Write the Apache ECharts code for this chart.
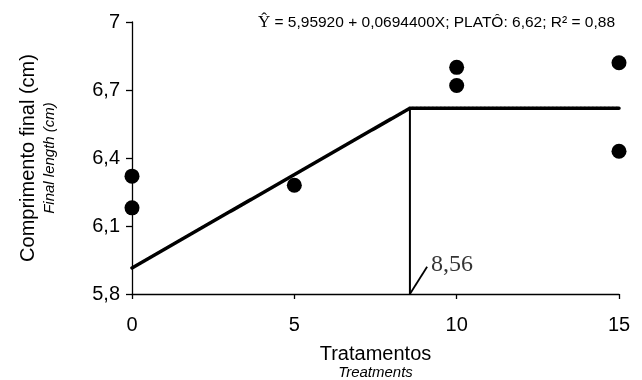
<!DOCTYPE html>
<html>
<head>
<meta charset="utf-8">
<script src="https://cdn.jsdelivr.net/npm/echarts@6/dist/echarts.min.js"></script>
<style>html,body{margin:0;padding:0;background:#fff}#c{width:642px;height:380px}</style>
</head>
<body>
<div id="c"></div>
<script>
// Observed data (treatment, final length)
const obsX = [0, 0, 5, 10, 10, 15, 15];
const obsY = [6.32, 6.18, 6.28, 6.80, 6.72, 6.82, 6.43];
// Fitted linear-plateau line
const fitX = [0, 8.56, 15];
const fitY = [5.915, 6.62, 6.62];
// Break point
const breakX = 8.56;
const breakLabel = '8,56';
const pointerEnd = [9.09, 5.92];
const xTicks = [0, 5, 10, 15];
const yTicks = [5.8, 6.1, 6.4, 6.7, 7];
const equation = ' = 5,95920 + 0,0694400X; PLATÔ: 6,62; R² = 0,88';

const fmt = v => (Math.round(v * 10) / 10).toString().replace('.', ',');
const SANS = '"Liberation Sans", Arial, sans-serif';
const SERIF = '"Liberation Serif", "Times New Roman", serif';

const chart = echarts.init(document.getElementById('c'), null, {renderer: 'canvas'});
chart.setOption({
  animation: false,
  backgroundColor: '#fff',
  grid: {left: 132, right: 23, top: 22, bottom: 86, containLabel: false, outerBoundsMode: 'none'},
  xAxis: {
    type: 'value', min: xTicks[0], max: xTicks[xTicks.length - 1], interval: 5,
    axisLine: {lineStyle: {color: '#000', width: 1.3}},
    axisTick: {show: true, length: 5, lineStyle: {color: '#000', width: 1.3}},
    splitLine: {show: false},
    axisLabel: {color: '#000', fontFamily: SANS, fontSize: 20, margin: 21},
    name: '{a|Tratamentos}\n{b|Treatments}',
    nameLocation: 'middle', nameGap: 49,
    nameTextStyle: {
      rich: {
        a: {fontFamily: SANS, fontSize: 20, color: '#000', lineHeight: 22, align: 'center'},
        b: {fontFamily: SANS, fontSize: 15, fontStyle: 'italic', color: '#000', lineHeight: 15, align: 'center'}
      }
    }
  },
  yAxis: {
    type: 'value', min: yTicks[0], max: yTicks[yTicks.length - 1], interval: 0.3,
    axisLine: {show: true, lineStyle: {color: '#000', width: 1.3}},
    axisTick: {show: true, length: 6, lineStyle: {color: '#000', width: 1.3}},
    splitLine: {show: false},
    axisLabel: {color: '#000', fontFamily: SANS, fontSize: 20, margin: 12, formatter: fmt},
    name: '{a|Comprimento final (cm)}\n{b|Final length (cm)}',
    nameLocation: 'middle', nameRotate: 90, nameGap: 72,
    nameTextStyle: {
      rich: {
        a: {fontFamily: SANS, fontSize: 20, color: '#000', lineHeight: 24, align: 'center'},
        b: {fontFamily: SANS, fontSize: 15, fontStyle: 'italic', color: '#000', lineHeight: 20, align: 'center'}
      }
    }
  },
  graphic: [{
    type: 'text', right: 27, top: 14,
    style: {
      rich: {
        y: {fontFamily: SERIF, fontSize: 17, fill: '#000'},
        t: {fontFamily: SANS, fontSize: 15.5, fill: '#000'}
      },
      text: '{y|Ŷ}{t|' + equation + '}'
    }
  }],
  series: [
    {
      type: 'line', data: fitX.map((x, i) => [x, fitY[i]]),
      showSymbol: false, symbol: 'none',
      lineStyle: {color: '#000', width: 3.5, type: [3, 1], cap: 'round', join: 'round'}, z: 2
    },
    {
      type: 'line', data: [[breakX, yTicks[0]], [breakX, fitY[1]]],
      showSymbol: false, symbol: 'none', lineStyle: {color: '#000', width: 2}, z: 2
    },
    {
      type: 'line', data: [[breakX, yTicks[0]], pointerEnd],
      showSymbol: false, symbol: 'none', lineStyle: {color: '#000', width: 1.8}, z: 2
    },
    {
      type: 'scatter', data: [pointerEnd], symbolSize: 0, silent: true,
      label: {show: true, position: 'right', distance: 4, formatter: breakLabel,
        fontFamily: SERIF, fontSize: 24, color: '#000', offset: [0, -2]}
    },
    {
      type: 'scatter', data: obsX.map((x, i) => [x, obsY[i]]),
      symbol: 'circle', symbolSize: 15, itemStyle: {color: '#000', opacity: 1}, z: 3
    }
  ]
});
</script>
</body>
</html>
